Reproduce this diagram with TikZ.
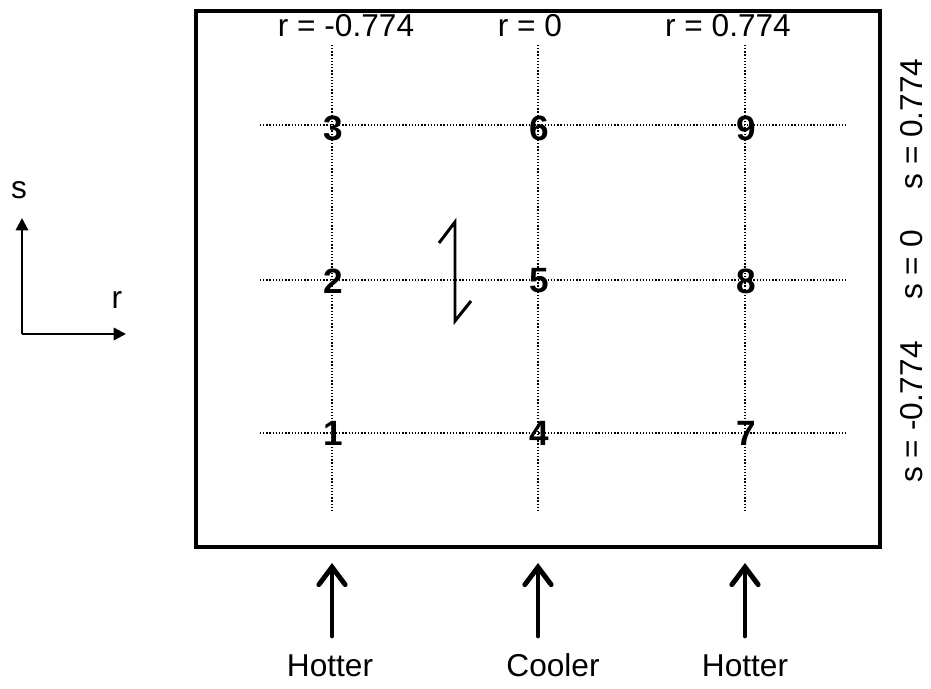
\documentclass[tikz,border=0pt]{standalone}
\usepackage{fontspec}
\setmainfont{Liberation Sans}
\usetikzlibrary{arrows.meta}
\begin{document}
\begin{tikzpicture}[x=0.02cm,y=-0.02cm,
  lbl/.style={inner sep=0pt,font=\fontsize{18pt}{21pt}\selectfont},
  num/.style={inner sep=0pt,font=\fontsize{20pt}{23pt}\selectfont\bfseries},
  grid/.style={line width=0.75pt,dash pattern=on 0.75pt off 1.05pt},
  frame/.style={line width=2.3pt},
  axis/.style={line width=1.3pt,-{Triangle[length=7pt,width=7pt]}},
  flow/.style={line width=2.8pt,line cap=round,line join=round,-{Straight Barb[length=10pt,width=15pt,line cap=round]}},
  zig/.style={line width=1.7pt,line join=miter}]
\useasboundingbox (0,0) rectangle (931,689);
% frame
\node[draw,frame,minimum width=688*0.02cm-2.3pt,minimum height=540*0.02cm-2.3pt,inner sep=0pt] (box) at (538,279) {};
% grid lines
\foreach \x/\n in {332/a,538/b,745/c}{
  \coordinate (vt\n) at (\x,45);
  \coordinate (vb\n) at (\x,510);
  \draw[grid] (vt\n) -- (vb\n);
}
\foreach \y/\n in {125/a,280/b,433/c}{
  \coordinate (hl\n) at (260,\y);
  \coordinate (hr\n) at (848,\y);
  \draw[grid] (hl\n) -- (hr\n);
}
% numbers
\node[num] (n3) at (333,128) {3};
\node[num] (n6) at (539,128) {6};
\node[num] (n9) at (746,128) {9};
\node[num] (n2) at (333,281) {2};
\node[num] (n5) at (539,281) {5};
\node[num] (n8) at (746,281) {8};
\node[num] (n1) at (333,433) {1};
\node[num] (n4) at (539,433) {4};
\node[num] (n7) at (746,433) {7};
% top labels
\node[lbl,anchor=base] (ra) at (346,37) {r = -0.774};
\node[lbl,anchor=base] (rb) at (530,37) {r = 0};
\node[lbl,anchor=base] (rc) at (728,37) {r = 0.774};
% right labels
\node[lbl,rotate=90] (sa) at (912,124) {s = 0.774};
\node[lbl,rotate=90] (sb) at (912,265) {s = 0};
\node[lbl,rotate=90] (sc) at (912,412) {s = -0.774};
% zigzag
\coordinate (z1) at (439,243);
\coordinate (z2) at (455,222);
\coordinate (z3) at (455,321);
\coordinate (z4) at (471,301);
\draw[zig] (z1) -- (z2) -- (z3) -- (z4);
% axes
\coordinate (o) at (22,334);
\coordinate (st) at (22,218);
\coordinate (rt) at (126,334);
\draw[axis] (o) -- (st);
\draw[axis] (o) -- (rt);
\node[lbl,anchor=base] (sl) at (19,199) {s};
\node[lbl,anchor=base] (rl) at (117,309) {r};
% bottom labels and arrows
\node[lbl,anchor=base] (h1) at (330,677) {Hotter};
\node[lbl,anchor=base] (c1) at (553,677) {Cooler};
\node[lbl,anchor=base] (h2) at (745,677) {Hotter};
\foreach \x/\n in {332/a,538/b,745/c}{
  \coordinate (fb\n) at (\x,636);
  \coordinate (ft\n) at (\x,563);
  \draw[flow] (fb\n) -- (ft\n);
}
\end{tikzpicture}
\end{document}
